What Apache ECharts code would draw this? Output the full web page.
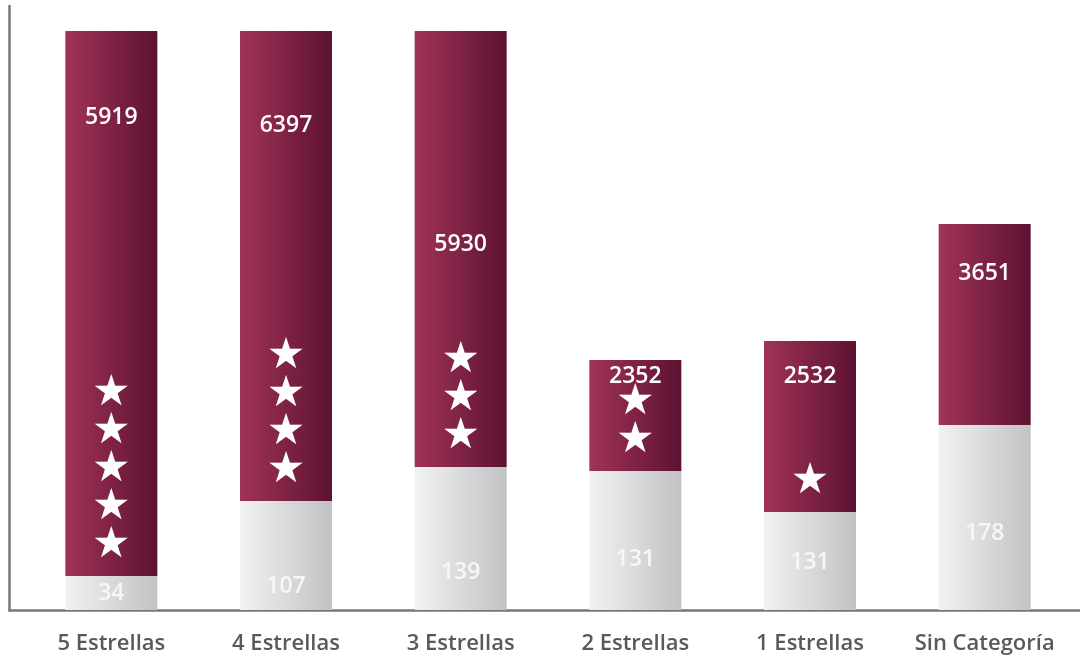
<!DOCTYPE html>
<html>
<head>
<meta charset="utf-8">
<script src="https://cdn.jsdelivr.net/npm/echarts@6/dist/echarts.min.js"></script>
<style>
html,body{margin:0;padding:0;background:#fff;}
#chart{width:1080px;height:662px;}
</style>
</head>
<body>
<div id="chart"></div>
<script>
// Categories and values shown on the chart
const categories = ['5 Estrellas', '4 Estrellas', '3 Estrellas', '2 Estrellas', '1 Estrellas', 'Sin Categoría'];
const grayValues = [34, 107, 139, 131, 131, 178];
const maroonValues = [5919, 6397, 5930, 2352, 2532, 3651];
// Drawn segment heights as read from the infographic (not proportional to the labels)
const grayBarHeights = [34, 109, 143, 139, 98, 185];
const maroonBarHeights = [545, 470, 436, 111, 171, 201];
const starCounts = [5, 4, 3, 2, 1, 0];
// Label placement (layout, px)
const maroonLabelFromTop = [86, 94, 213, 16, 35, 49];
const grayLabelFromBottom = [17, 24, 38, 51, 48, 77];

const FONT = '"Open Sans", "Noto Sans", sans-serif';
const chart = echarts.init(document.getElementById('chart'), null, {renderer: 'canvas'});

const maroonGrad = new echarts.graphic.LinearGradient(0, 0, 1, 0, [
  {offset: 0, color: '#a13358'},
  {offset: 1, color: '#5d1232'}
]);
const grayGrad = new echarts.graphic.LinearGradient(0, 0, 1, 0, [
  {offset: 0, color: '#f1f2f2'},
  {offset: 1, color: '#c1c2c4'}
]);

const option = {
  backgroundColor: '#ffffff',
  animation: false,
  grid: {left: 24, right: 8, top: 31, bottom: 52},
  xAxis: {
    type: 'category',
    data: categories,
    axisLine: {show: false},
    axisTick: {show: false},
    axisLabel: {
      color: '#58595b', fontFamily: FONT, fontWeight: 600, fontSize: 22,
      margin: 34, verticalAlign: 'middle', interval: 0
    }
  },
  yAxis: {
    type: 'value', min: 0, max: 579,
    show: false, splitLine: {show: false}
  },
  series: [
    {
      name: 'gray', type: 'bar', stack: 'total', barWidth: 92, barGap: '-100%',
      itemStyle: {color: grayGrad},
      label: {
        show: true, position: 'insideBottom', distance: 0,
        verticalAlign: 'middle', align: 'center',
        color: '#f7f7f7', fontFamily: FONT, fontWeight: 600, fontSize: 23,
        formatter: p => String(grayValues[p.dataIndex])
      },
      data: grayBarHeights.map((h, i) => ({value: h, label: {offset: [0, -grayLabelFromBottom[i]]}}))
    },
    {
      name: 'maroon', type: 'bar', stack: 'total', barWidth: 92, barGap: '-100%',
      itemStyle: {color: maroonGrad},
      label: {
        show: true, position: 'insideTop', distance: 0,
        verticalAlign: 'middle', align: 'center',
        color: '#ffffff', fontFamily: FONT, fontWeight: 600, fontSize: 23,
        formatter: p => String(maroonValues[p.dataIndex])
      },
      data: maroonBarHeights.map((h, i) => ({value: h, label: {offset: [0, maroonLabelFromTop[i]]}}))
    },
    {
      name: 'stars', type: 'bar', barWidth: 92, barGap: '-100%', silent: true,
      itemStyle: {color: 'rgba(0,0,0,0)'},
      label: {
        show: true, position: 'top', distance: 11,
        color: '#ffffff', fontFamily: '"DejaVu Sans"', fontSize: 43, lineHeight: 38,
        align: 'center',
        formatter: p => starCounts[p.dataIndex] > 0 ? Array(starCounts[p.dataIndex]).fill('★').join('\n') : ''
      },
      data: grayBarHeights.slice()
    }
  ],
  graphic: [
    {type: 'line', shape: {x1: 9.5, y1: 5, x2: 9.5, y2: 611.5}, style: {stroke: '#777777', lineWidth: 2.5}, silent: true},
    {type: 'line', shape: {x1: 8.5, y1: 610.5, x2: 1080, y2: 610.5}, style: {stroke: '#777777', lineWidth: 2.5}, silent: true}
  ]
};
chart.setOption(option);
</script>
</body>
</html>
